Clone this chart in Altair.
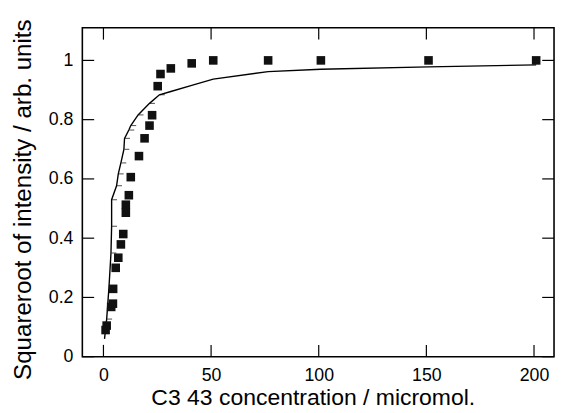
import altair as alt
import pandas as pd

# measured points (concentration, sqrt intensity)
conc = [1.0, 1.5, 3.6, 4.4, 4.5, 5.7, 6.9, 8.1, 9.2, 10.4, 10.4, 11.8, 12.7, 16.5,
        19.1, 21.4, 22.6, 25.2, 26.5, 31.3, 41, 51, 76.5, 101, 151, 201]
sqrt_int = [0.09, 0.105, 0.168, 0.179, 0.229, 0.30, 0.334, 0.379, 0.414, 0.486, 0.513,
            0.545, 0.606, 0.677, 0.737, 0.78, 0.815, 0.913, 0.954, 0.973, 0.99, 1.0,
            1.0, 1.0, 1.0, 1.0]

# fitted curve vertices
fit_x = [0.5, 1.5, 2.6, 3.5, 3.8, 3.8, 6.1, 6.9, 8.1, 9.5, 9.8, 11.8, 12.7, 16.1,
         21.4, 26, 31.3, 41, 51, 76.5, 101, 151, 201]
fit_y = [0.06, 0.127, 0.238, 0.35, 0.44, 0.53, 0.577, 0.617, 0.654, 0.70, 0.737,
         0.765, 0.78, 0.816, 0.855, 0.884, 0.895, 0.916, 0.937, 0.962, 0.970, 0.978, 0.985]
fit_order = list(range(len(fit_x)))
fit_mark = [1 if (0 < i and fit_x[i] < 30) else 0 for i in fit_order]

x_ticks = [0, 50, 100, 150, 200]
y_ticks = [0, 0.2, 0.4, 0.6, 0.8, 1.0]

W, H = 479, 334
XDOM = [-9.8, 209.3]
YDOM = [0, 1.11]

pts = pd.DataFrame({"c": conc, "s": sqrt_int})
fit = pd.DataFrame({"c": fit_x, "s": fit_y, "o": fit_order, "m": fit_mark})
xt = pd.DataFrame({"c": x_ticks})
yt = pd.DataFrame({"s": y_ticks})

xs = alt.Scale(domain=XDOM, nice=False, zero=False)
ys = alt.Scale(domain=YDOM, nice=False, zero=False)

XT = "C3 43 concentration / micromol."
YT = "Squareroot of intensity / arb. units"

xaxis = alt.Axis(values=x_ticks, ticks=False, tickSize=0, domain=False, grid=False,
                 labelFontSize=18, labelBaseline="alphabetic", labelPadding=23.7,
                 titleFontSize=23.3,
                 titleFontWeight="normal", titleBaseline="alphabetic", titleY=48.5,
                 titleX=234)
yaxis = alt.Axis(values=y_ticks, ticks=False, tickSize=0, domain=False, grid=False,
                 labelFontSize=18, labelPadding=9.5,
                 labelExpr="datum.value == 1 ? '1' : datum.value == 0 ? '0' : format(datum.value, '.1f')",
                 titleFontSize=24.5,
                 titleFontWeight="normal", titleBaseline="alphabetic", titleX=-53, titleY=174)

X = alt.X("c:Q", scale=xs, axis=xaxis, title=XT)
Y = alt.Y("s:Q", scale=ys, axis=yaxis, title=YT)

points = alt.Chart(pts).mark_square(size=76, color="#111111", opacity=1).encode(x=X, y=Y)

line = alt.Chart(fit).mark_line(color="black", strokeWidth=1.4).encode(
    x=X, y=Y, order="o:Q",
)

dashes = alt.Chart(fit).transform_filter("datum.m == 1").mark_tick(
    orient="horizontal", size=5, thickness=1, color="black", xOffset=3
).encode(x=X, y=Y)

tl = 12
bottom_ticks = alt.Chart(xt).mark_rule(color="black", strokeWidth=1.2).encode(
    x=X, y=alt.value(H), y2=alt.value(H - tl))
top_ticks = alt.Chart(xt).mark_rule(color="black", strokeWidth=1.2).encode(
    x=X, y=alt.value(0), y2=alt.value(tl))
left_ticks = alt.Chart(yt).mark_rule(color="black", strokeWidth=1.2).encode(
    y=Y, x=alt.value(0), x2=alt.value(tl))
right_ticks = alt.Chart(yt).mark_rule(color="black", strokeWidth=1.2).encode(
    y=Y, x=alt.value(W), x2=alt.value(W - tl))

chart = alt.layer(
    bottom_ticks, top_ticks, left_ticks, right_ticks, line, dashes, points
).properties(
    width=W, height=H,
    autosize=alt.AutoSizeParams(type="none"),
    padding={"left": 75.5, "top": 17, "right": 2, "bottom": 50},
).configure(
    font="Liberation Sans"
).configure_view(
    stroke="black", strokeWidth=1.6
).configure_axis(
    labelColor="black", titleColor="black", labelFont="Liberation Sans",
    titleFont="Liberation Sans"
)

chart.save("out.html", embed_options={"renderer": "svg", "actions": False})
